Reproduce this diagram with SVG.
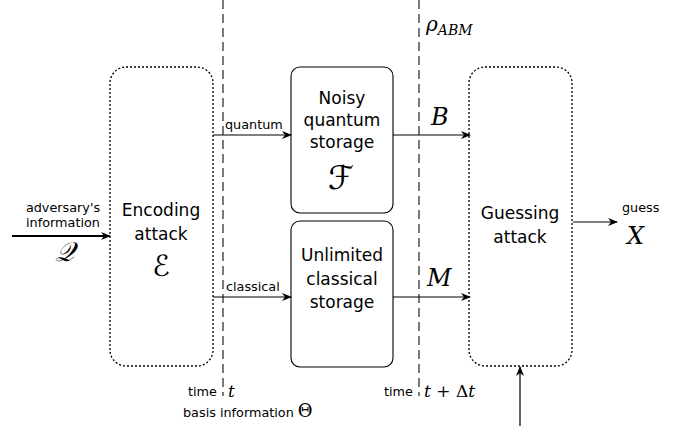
<svg xmlns="http://www.w3.org/2000/svg" width="675" height="426" viewBox="0 0 675 426">
<defs>
<marker id="ah" viewBox="0 0 10 8" refX="9" refY="4" markerWidth="10" markerHeight="8" markerUnits="userSpaceOnUse" orient="auto">
<path d="M0,0 L10,4 L0,8 L3,4 Z" fill="#000"/>
</marker>
</defs>
<style>
.dot{fill:#fff;stroke:#000;stroke-width:1.3;stroke-dasharray:2 2}
.sol{fill:#fff;stroke:#000;stroke-width:1.1}
.dash{stroke:#333;stroke-width:1.3;stroke-dasharray:9 5;fill:none}
.ln{stroke:#000;stroke-width:1.2;fill:none;marker-end:url(#ah)}
.t{font-family:"DejaVu Sans",sans-serif;font-size:17px;text-anchor:middle;fill:#000}
.s{font-family:"DejaVu Sans",sans-serif;font-size:12.8px;fill:#000}
.m{font-family:"DejaVu Serif","Liberation Serif",serif;font-style:italic;fill:#000}
.u{font-family:"DejaVu Serif","Liberation Serif",serif;font-style:normal;fill:#000}
.c{font-family:"DejaVu Serif","DejaVu Sans","Noto Sans",serif;font-style:italic;fill:#000;text-anchor:middle}
</style>
<g id="timelines">
<line class="dash" x1="223" y1="0" x2="223" y2="396"/>
<line class="dash" x1="419" y1="0" x2="419" y2="396"/>
</g>
<g id="encoding">
<rect class="dot" x="110" y="67" width="103" height="299" rx="16"/>
<text class="t" x="161" y="216">Encoding</text>
<text class="t" x="161" y="240">attack</text>
<text class="c" x="161" y="276" font-size="29">ℰ</text>
</g>
<g id="noisy">
<rect class="sol" x="291" y="67" width="102" height="146" rx="9"/>
<text class="t" x="342" y="104">Noisy</text>
<text class="t" x="342" y="126">quantum</text>
<text class="t" x="342" y="148">storage</text>
<text class="c" x="341" y="189" font-size="33">ℱ</text>
</g>
<g id="unlimited">
<rect class="sol" x="291" y="221" width="102" height="146" rx="9"/>
<text class="t" x="342" y="261">Unlimited</text>
<text class="t" x="342" y="285">classical</text>
<text class="t" x="342" y="308">storage</text>
</g>
<g id="guessing">
<rect class="dot" x="469" y="67" width="103" height="299" rx="16"/>
<text class="t" x="520" y="219">Guessing</text>
<text class="t" x="520" y="243">attack</text>
</g>
<g id="connectors">
<line x1="12" y1="236" x2="110" y2="236" stroke="#000" stroke-width="2" marker-end="url(#ah)"/>
<line class="ln" x1="213" y1="135" x2="291" y2="135"/>
<line class="ln" x1="213" y1="297" x2="291" y2="297"/>
<line class="ln" x1="393" y1="135" x2="470" y2="135"/>
<line class="ln" x1="393" y1="297" x2="470" y2="297"/>
<line class="ln" x1="573" y1="222" x2="617" y2="222"/>
<line class="ln" x1="520" y1="426" x2="520" y2="367"/>
</g>
<g id="labels">
<text class="s" x="63" y="212" text-anchor="middle">adversary's</text>
<text class="s" x="63" y="227" text-anchor="middle">information</text>
<text class="c" x="64" y="261" font-size="27">𝒬</text>
<text class="s" x="225" y="129">quantum</text>
<text class="s" x="226" y="291">classical</text>
<text class="m" x="431" y="125" font-size="24">B</text>
<text class="m" x="427" y="286" font-size="24">M</text>
<text class="s" x="622" y="212">guess</text>
<text class="m" x="627" y="244" font-size="24">X</text>
<text class="m" x="426" y="31" font-size="20">ρ<tspan font-size="14" dy="4">ABM</tspan></text>
<text class="s" x="188" y="396">time</text>
<text class="m" x="228" y="397" font-size="17">t</text>
<text class="s" x="384" y="396">time</text>
<text class="m" x="424" y="397" font-size="17">t<tspan class="u"> + Δ</tspan>t</text>
<text class="s" x="183" y="417">basis information <tspan class="u" font-size="18">Θ</tspan></text>
</g>
</svg>
